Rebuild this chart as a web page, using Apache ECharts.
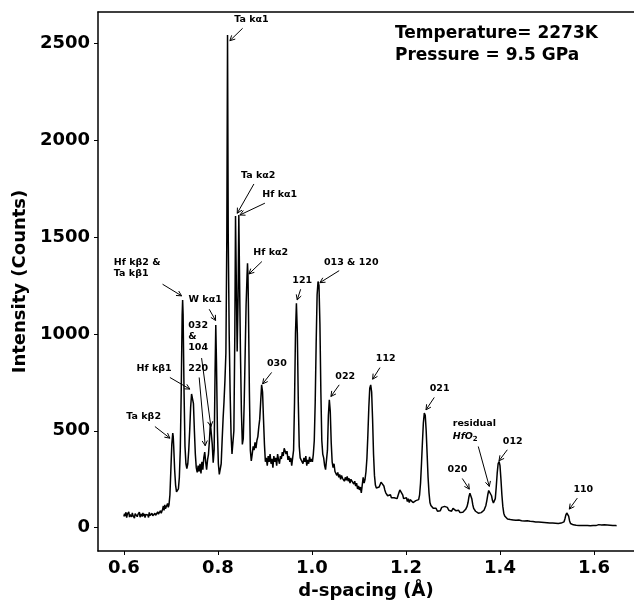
<!DOCTYPE html>
<html><head><meta charset="utf-8">
<script src="https://cdn.jsdelivr.net/npm/echarts@6/dist/echarts.min.js"></script>
<style>html,body{margin:0;padding:0;background:#fff}#c{width:634px;height:605px}</style>
</head><body><div id="c"></div>
<script>
// d-spacing (Å) and intensity (counts)
const dSpacing = [
0.6000,0.6015,0.6030,0.6045,0.6060,0.6075,0.6090,0.6105,0.6120,0.6135,0.6150,0.6165,0.6180,0.6195,0.6210,0.6225,0.6240,0.6255,0.6270,0.6285,0.6300,0.6315,0.6330,0.6345,0.6360,0.6375,0.6390,0.6405,0.6420,0.6435,0.6450,0.6465,0.6480,0.6495,0.6510,0.6525,0.6540,0.6555,0.6570,0.6585,0.6600,0.6615,0.6630,0.6645,0.6660,0.6675,0.6690,0.6705,0.6720,0.6735,0.6750,0.6765,0.6780,0.6795,0.6810,0.6825,0.6840,0.6855,0.6870,0.6885,0.6900,0.6915,0.6930,0.6945,0.6960,
0.698,0.700,0.702,0.704,0.705,0.706,0.708,0.710,0.712,0.714,0.716,0.718,
0.720,0.722,0.724,0.725,0.726,0.728,0.730,0.732,0.734,0.736,0.738,
0.740,0.742,0.744,0.746,0.748,0.750,0.752,0.754,0.756,0.758,0.760,0.762,0.764,0.766,0.768,0.770,0.772,0.774,0.776,0.778,0.780,
0.782,0.784,0.786,0.788,0.790,0.792,
0.794,0.7955,0.797,0.799,0.801,0.803,0.805,0.807,
0.809,0.811,0.813,0.815,0.817,0.819,0.8205,0.822,0.824,0.826,0.828,0.830,0.832,0.834,
0.836,0.8375,0.8395,0.841,0.843,0.8445,0.846,0.848,0.850,0.852,0.854,0.856,0.858,0.860,
0.862,0.863,0.864,0.865,0.867,0.869,0.871,0.873,0.875,0.877,0.879,0.881,0.883,0.885,0.887,
0.889,0.891,0.893,0.895,0.897,0.899,0.901,0.903,0.905,0.907,0.909,0.911,0.913,0.915,0.917,0.919,0.921,0.923,0.925,0.927,0.929,0.931,0.933,0.935,0.937,0.939,0.941,0.943,0.945,0.947,0.949,0.951,0.953,0.955,0.957,0.959,
0.961,0.963,0.965,0.967,0.969,0.971,0.973,0.975,0.977,0.979,0.981,0.983,0.985,0.987,0.989,0.991,0.993,0.995,0.997,0.999,1.001,1.003,
1.005,1.007,1.009,1.011,1.013,1.015,1.017,1.019,1.021,1.023,1.025,1.027,1.029,1.031,1.033,
1.035,1.037,1.039,1.041,1.043,1.045,1.047,1.049,1.051,1.053,1.055,1.057,1.059,1.061,1.063,1.065,1.067,1.069,1.071,1.073,1.075,1.077,1.079,1.081,1.083,1.085,1.087,1.089,1.091,1.093,1.095,1.097,1.099,1.101,1.103,1.105,1.107,1.109,
1.111,1.113,1.115,1.117,1.119,1.121,1.123,1.125,1.127,1.129,1.131,1.133,1.135,1.137,1.139,1.141,1.143,1.145,1.147,1.149,1.151,1.153,1.155,1.157,1.159,1.161,1.163,1.165,1.167,1.169,1.171,1.173,1.175,1.177,1.179,1.181,1.183,1.185,1.187,1.189,1.191,1.193,1.195,1.197,1.199,1.201,1.203,1.205,1.207,1.209,1.211,1.213,1.215,1.217,1.219,1.221,1.223,1.225,1.227,
1.229,1.231,1.233,1.235,1.237,1.239,1.241,1.243,1.245,1.247,1.249,1.251,1.253,1.255,1.258,1.261,1.264,1.267,1.270,1.273,1.276,1.279,1.282,1.285,1.288,1.291,1.294,1.297,1.300,1.303,1.306,1.309,1.312,1.315,1.318,1.321,1.324,1.327,1.330,
1.332,1.334,1.336,1.338,1.340,1.342,1.344,1.346,1.348,1.350,1.352,1.354,1.356,1.358,1.360,1.362,1.364,1.366,1.368,1.370,1.372,
1.374,1.376,1.378,1.380,1.382,1.384,1.386,1.388,1.390,1.392,
1.394,1.396,1.398,1.400,1.402,1.404,1.406,1.408,1.410,1.413,1.416,1.419,1.422,1.425,1.428,1.431,1.434,1.437,1.440,1.443,1.446,1.449,1.452,1.455,1.458,1.461,1.464,1.467,1.470,1.473,1.476,1.479,1.482,1.485,1.488,1.491,1.494,1.497,1.500,1.503,1.506,1.509,1.512,1.515,1.518,1.521,1.524,1.527,1.530,1.533,1.536,
1.538,1.540,1.542,1.544,1.546,1.548,1.550,1.553,1.556,1.559,1.562,1.565,1.568,1.571,1.574,1.577,1.580,1.583,1.586,1.589,1.592,1.595,1.598,1.601,1.604,1.607,1.610,1.613,1.616,1.619,1.622,1.625,1.628,1.631,1.634,1.637,1.640,1.643,1.646,1.648
];
const intensity = [
58,72,60,80,52,70,64,82,55,68,74,56,77,62,70,50,73,65,78,57,69,61,80,54,71,66,58,76,60,72,52,68,75,59,66,53,79,63,70,56,74,61,67,52,75,64,71,58,82,70,76,65,88,74,80,96,112,90,118,98,108,92,125,105,118,
170,300,430,488,470,420,300,220,185,175,200,260,
400,700,1100,1175,1100,700,420,330,305,330,400,
500,620,690,700,640,500,380,310,285,320,290,330,280,340,300,360,390,340,300,350,380,
450,540,545,430,335,400,
800,1046,850,500,330,275,265,330,
450,560,650,760,900,1500,2541,1500,1000,700,480,380,370,500,
1000,1608,1200,909,1200,1613,1300,900,600,430,460,650,900,1150,
1300,1364,1300,1124,700,400,345,380,420,400,440,410,450,470,520,
560,650,737,700,560,430,340,360,320,370,340,380,330,355,310,370,340,360,320,380,350,330,370,355,390,370,410,400,380,395,350,370,340,360,320,310,
400,650,1000,1158,1000,650,420,360,350,370,330,360,340,370,320,350,330,365,340,355,340,380,
450,650,950,1200,1270,1250,1050,700,450,380,360,320,300,290,400,
580,660,600,440,340,310,330,290,300,270,285,260,275,250,270,255,265,240,260,245,265,240,255,230,250,240,255,225,240,215,230,200,215,195,210,180,220,260,
230,250,290,360,480,620,720,737,700,560,380,270,220,205,215,200,210,220,235,245,240,215,195,180,175,165,175,160,170,155,160,150,155,145,160,150,165,180,195,205,190,170,150,160,140,155,135,150,130,145,135,150,130,140,125,140,130,135,145,
170,230,330,440,540,591,580,500,380,260,180,130,115,105,100,90,100,85,95,88,105,95,110,100,105,90,95,85,100,92,88,80,90,78,85,80,90,95,110,
130,160,178,175,150,120,100,90,85,80,78,75,76,80,78,82,85,90,100,115,140,
170,192,199,190,165,140,128,127,150,210,
280,330,342,320,250,170,110,75,60,50,45,40,42,36,40,33,38,35,40,34,36,30,35,31,36,29,33,28,32,27,30,25,29,24,28,23,27,22,26,21,24,20,24,19,23,18,22,20,24,21,30,
45,65,76,75,60,35,22,18,15,17,13,16,12,15,11,14,12,15,11,13,10,14,12,15,11,13,16,12,14,11,15,12,14,11,13,15,12,14,11,10
];
const xTicks = [0.6, 0.8, 1.0, 1.2, 1.4, 1.6];
const yTicks = [0, 500, 1000, 1500, 2000, 2500];

// annotations: label, head (arrow tip), tail, text anchor (data coords), alignment
const annotations = [
  {t:'Ta kα1', hx:0.8255, hy:2512, sx:0.8526, sy:2576, lx:0.8713, ly:2619, a:'center'},
  {t:'Ta kα2', hx:0.8411, hy:1622, sx:0.8766, sy:1773, lx:0.8857, ly:1814, a:'center'},
  {t:'Hf kα1', hx:0.8468, hy:1613, sx:0.9000, sy:1674, lx:0.9315, ly:1719, a:'center'},
  {t:'Hf kα2', hx:0.8660, hy:1309, sx:0.8936, sy:1373, lx:0.9123, ly:1420, a:'center'},
  {t:'Hf kβ2 &\nTa kβ1', hx:0.7228, hy:1196, sx:0.6823, sy:1256, lx:0.5787, ly:1337, a:'left'},
  {t:'121', hx:0.9687, hy:1175, sx:0.9760, sy:1230, lx:0.9794, ly:1273, a:'center'},
  {t:'013 & 120', hx:1.0170, hy:1264, sx:1.0580, sy:1326, lx:1.0836, ly:1369, a:'center'},
  {t:'W kα1', hx:0.7951, hy:1069, sx:0.7815, sy:1127, lx:0.7730, ly:1175, a:'center'},
  {t:'032\n&\n104', hx:0.7851, hy:522, sx:0.7653, sy:875, lx:0.7368, ly:985, a:'left'},
  {t:'220', hx:0.7730, hy:423, sx:0.7602, sy:775, lx:0.7581, ly:820, a:'center'},
  {t:'Hf kβ1', hx:0.7404, hy:715, sx:0.6979, sy:775, lx:0.6643, ly:822, a:'center'},
  {t:'Ta kβ2', hx:0.6979, hy:462, sx:0.6660, sy:522, lx:0.6421, ly:574, a:'center'},
  {t:'030', hx:0.8951, hy:742, sx:0.9143, sy:801, lx:0.9255, ly:849, a:'center'},
  {t:'022', hx:1.0404, hy:677, sx:1.0580, sy:737, lx:1.0709, ly:781, a:'center'},
  {t:'112', hx:1.1291, hy:766, sx:1.1447, sy:826, lx:1.1570, ly:872, a:'center'},
  {t:'021', hx:1.2426, hy:608, sx:1.2602, sy:672, lx:1.2717, ly:717, a:'center'},
  {t:'{b|residual}\n{i|HfO}{s|2}', hx:1.3772, hy:213, sx:1.3538, sy:419, lx:1.2994, ly:505, a:'left', rich:true},
  {t:'012', hx:1.3979, hy:345, sx:1.4155, sy:402, lx:1.4272, ly:446, a:'center'},
  {t:'020', hx:1.3347, hy:199, sx:1.3198, sy:254, lx:1.3096, ly:299, a:'center'},
  {t:'110', hx:1.5474, hy:96, sx:1.5645, sy:153, lx:1.5772, ly:198, a:'center'}
];

const FONT = '"DejaVu Sans", sans-serif';
const chart = echarts.init(document.getElementById('c'), null, {renderer:'canvas'});
const series = dSpacing.map((x, i) => [x, intensity[i]]);

chart.setOption({
  animation: false,
  backgroundColor: '#fff',
  textStyle: {fontFamily: FONT},
  title: {
    text: 'Temperature= 2273K\nPressure = 9.5 GPa',
    left: 390, top: 18,
    textStyle: {fontFamily: FONT, fontSize: 17, fontWeight: 'bold', color: '#000', lineHeight: 22}
  },
  grid: {left: 98, top: 12, right: 0, bottom: 54, containLabel: false},
  xAxis: [{
    type: 'value', min: 0.545, max: 1.685, position: 'bottom',
    name: 'd-spacing (Å)', nameLocation: 'middle', nameGap: 31,
    nameTextStyle: {fontFamily: FONT, fontSize: 18, fontWeight: 'bold', color: '#000'},
    axisLine: {show: true, onZero: false, lineStyle: {color: '#000', width: 1.5}},
    axisTick: {show: true, length: 4, lineStyle: {color: '#000', width: 1}, customValues: xTicks},
    axisLabel: {fontFamily: FONT, fontSize: 18, fontWeight: 'bold', color: '#000', margin: 8,
      customValues: xTicks, formatter: v => v.toFixed(1)},
    splitLine: {show: false}
  }, {
    type: 'value', min: 0.545, max: 1.685, position: 'top',
    axisLine: {show: true, onZero: false, lineStyle: {color: '#000', width: 1.5}},
    axisTick: {show: false}, axisLabel: {show: false}, splitLine: {show: false}
  }],
  yAxis: {
    type: 'value', min: -120, max: 2660,
    name: 'Intensity (Counts)', nameLocation: 'middle', nameGap: 66,
    nameTextStyle: {fontFamily: FONT, fontSize: 18, fontWeight: 'bold', color: '#000'},
    axisLine: {show: true, onZero: false, lineStyle: {color: '#000', width: 1.5}},
    axisTick: {show: true, length: 4, lineStyle: {color: '#000', width: 1}, customValues: yTicks},
    axisLabel: {fontFamily: FONT, fontSize: 18, fontWeight: 'bold', color: '#000', margin: 8,
      customValues: yTicks, formatter: v => String(Math.round(v))},
    splitLine: {show: false}
  },
  series: [{
    type: 'line', data: series, showSymbol: false, symbol: 'none', sampling: null,
    lineStyle: {color: '#000', width: 1.5}, z: 2
  }, {
    type: 'custom', clip: false, z: 5,
    data: annotations.map(a => [a.hx, a.hy, a.sx, a.sy, a.lx, a.ly]),
    encode: {x: [0, 2, 4], y: [1, 3, 5]},
    renderItem: function (params, api) {
      const a = annotations[params.dataIndex];
      const h = api.coord([a.hx, a.hy]);
      const s = api.coord([a.sx, a.sy]);
      const l = api.coord([a.lx, a.ly]);
      const dx = h[0] - s[0], dy = h[1] - s[1];
      const len = Math.sqrt(dx*dx + dy*dy) || 1;
      const ux = dx/len, uy = dy/len;
      const hl = 5, hw = 2.6;
      const w1 = [h[0] - ux*hl - uy*hw, h[1] - uy*hl + ux*hw];
      const w2 = [h[0] - ux*hl + uy*hw, h[1] - uy*hl - ux*hw];
      const textStyle = {
        text: a.t, x: l[0], y: l[1], align: a.a, verticalAlign: 'middle',
        fontFamily: FONT, fontSize: 9.5, fontWeight: 'bold', fill: '#000', lineHeight: 11
      };
      if (a.rich) {
        textStyle.rich = {
          b: {fontFamily: FONT, fontSize: 9.5, fontWeight: 'bold', fill: '#000', lineHeight: 13},
          i: {fontFamily: FONT, fontSize: 9.5, fontWeight: 'bold', fontStyle: 'italic', fill: '#000', lineHeight: 13},
          s: {fontFamily: FONT, fontSize: 7, fontWeight: 'bold', fill: '#000', verticalAlign: 'bottom', lineHeight: 13, padding: [6,0,0,0]}
        };
      }
      return {
        type: 'group',
        children: [
          {type: 'line', shape: {x1: s[0], y1: s[1], x2: h[0], y2: h[1]}, style: {stroke: '#000', lineWidth: 1}},
          {type: 'polyline', shape: {points: [w1, h, w2]}, style: {stroke: '#000', lineWidth: 1, fill: null}},
          {type: 'text', style: textStyle}
        ]
      };
    }
  }]
});
</script>
</body></html>
